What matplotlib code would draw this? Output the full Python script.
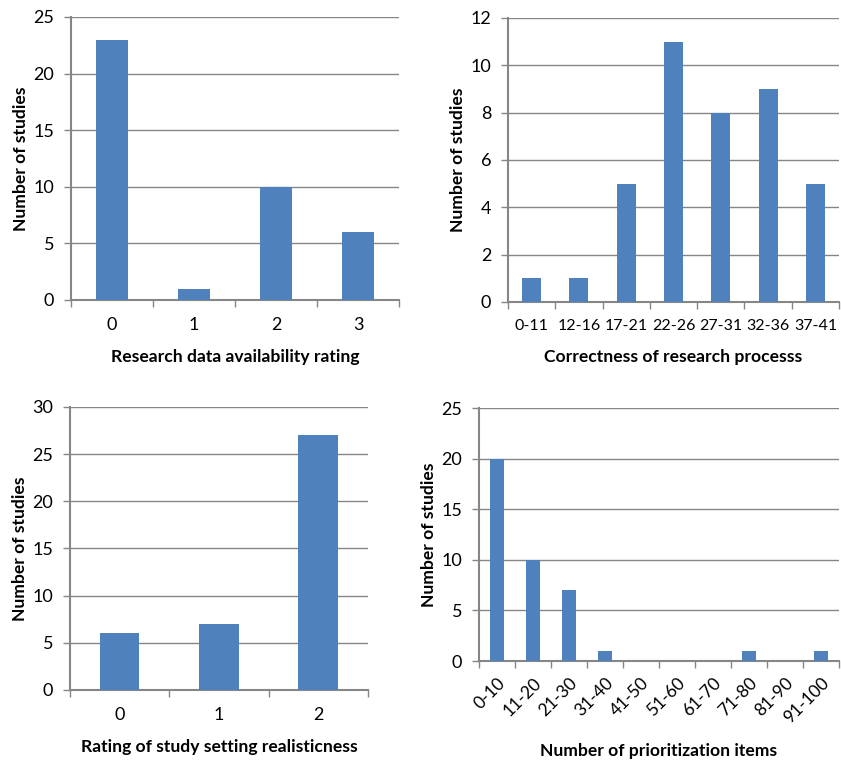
import numpy as np
import matplotlib.pyplot as plt

plt.rcParams['font.family'] = ['Lato', 'DejaVu Sans']

BAR_COLOR = '#4F81BD'
AXIS_COLOR = '#868686'

# data
avail_labels = ['0', '1', '2', '3']
avail_counts = [23, 1, 10, 6]

correct_labels = ['0-11', '12-16', '17-21', '22-26', '27-31', '32-36', '37-41']
correct_counts = [1, 1, 5, 11, 8, 9, 5]

realism_labels = ['0', '1', '2']
realism_counts = [6, 7, 27]

items_labels = ['0-10', '11-20', '21-30', '31-40', '41-50', '51-60',
                '61-70', '71-80', '81-90', '91-100']
items_counts = [20, 10, 7, 1, 0, 0, 0, 1, 0, 1]


def excel_bar(ax, labels, counts, ymax, ystep, xlabel, rotate=False, xfs=13):
    x = np.arange(len(labels))
    ax.bar(x, counts, width=0.4, color=BAR_COLOR, zorder=3)
    ax.set_xlim(-0.5, len(labels) - 0.5)
    ax.set_ylim(0, ymax)
    ax.set_yticks(np.arange(0, ymax + ystep / 2, ystep))
    ax.yaxis.grid(True, color=AXIS_COLOR, linewidth=1)
    ax.set_axisbelow(True)
    # category labels centred, tick marks at the boundaries
    ax.set_xticks(x)
    ax.set_xticks(np.arange(-0.5, len(labels)), minor=True)
    if rotate:
        ax.set_xticklabels(labels, rotation=45, ha='right',
                           rotation_mode='anchor', fontsize=xfs)
        ax.tick_params(axis='x', which='major', length=0, pad=10)
    else:
        ax.set_xticklabels(labels, fontsize=xfs)
        ax.tick_params(axis='x', which='major', length=0, pad=12)
    ax.tick_params(axis='x', which='minor', length=5, color=AXIS_COLOR,
                   direction='out', width=1)
    ax.tick_params(axis='y', length=5, color=AXIS_COLOR, width=1,
                   labelsize=13, pad=7)
    for side in ['top', 'right']:
        ax.spines[side].set_visible(False)
    for side in ['left', 'bottom']:
        ax.spines[side].set_color(AXIS_COLOR)
        ax.spines[side].set_linewidth(1.5)
    ax.set_ylabel('Number of studies', fontsize=12.6, fontweight='bold',
                  labelpad=3)
    ax.set_xlabel(xlabel, fontsize=12.6, fontweight='bold', labelpad=12)


fig = plt.figure(figsize=(8.41, 7.62), dpi=100)

ax1 = fig.add_axes([0.0844, 0.6063, 0.390, 0.3714])
excel_bar(ax1, avail_labels, avail_counts, 25, 5,
          'Research data availability rating')

ax2 = fig.add_axes([0.604, 0.6037, 0.3936, 0.3727])
excel_bar(ax2, correct_labels, correct_counts, 12, 2,
          'Correctness of research processs', xfs=11.5)

ax3 = fig.add_axes([0.0832, 0.0945, 0.3543, 0.3714])
excel_bar(ax3, realism_labels, realism_counts, 30, 5,
          'Rating of study setting realisticness')

ax4 = fig.add_axes([0.5696, 0.1325, 0.428, 0.332])
excel_bar(ax4, items_labels, items_counts, 25, 5,
          'Number of prioritization items', rotate=True, xfs=12.5)

fig.savefig('out.png', dpi=100)
